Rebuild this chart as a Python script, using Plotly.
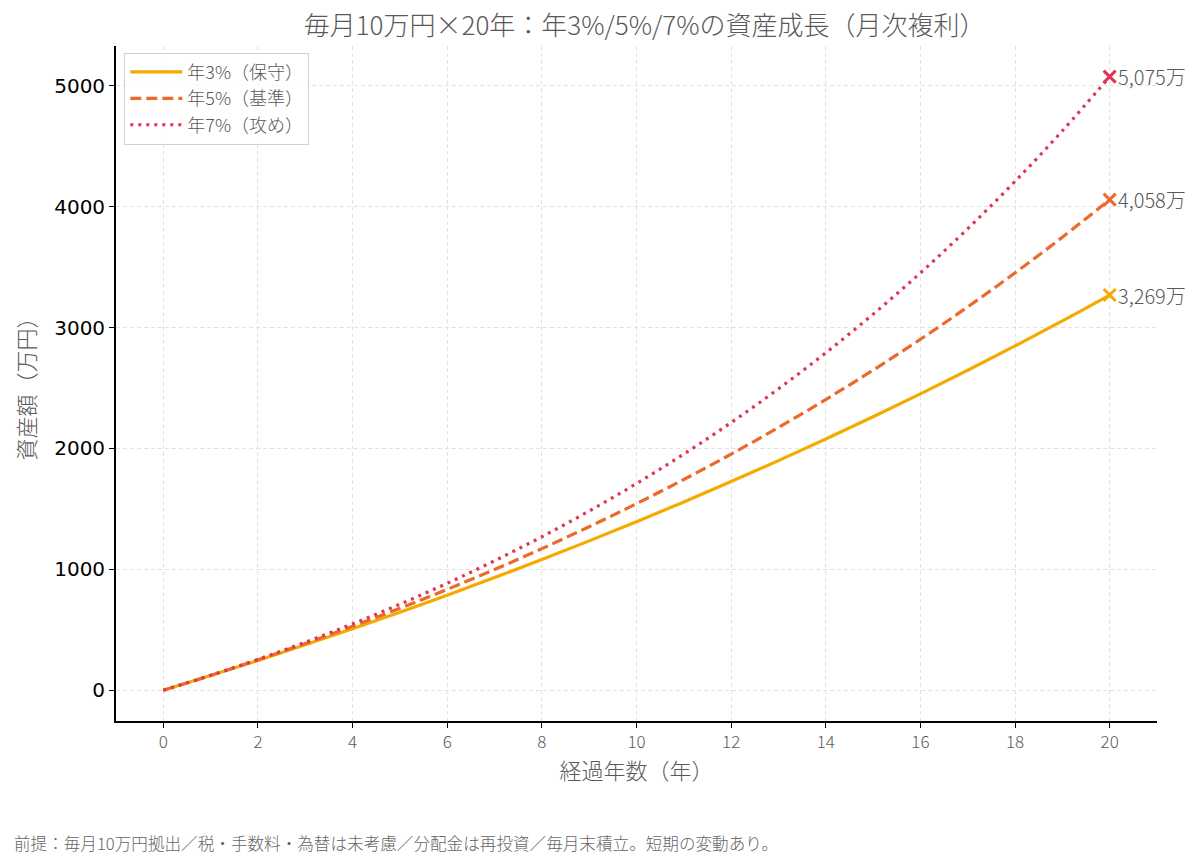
import plotly.graph_objects as go

years = list(range(0, 21))

# 資産額（万円）, year-end values
rate3 = [0, 121.6, 246.9, 376.0, 508.9, 645.8, 786.8, 932.1, 1081.7, 1235.8, 1394.5,
         1557.9, 1726.3, 1899.8, 2078.4, 2262.4, 2451.9, 2647.1, 2848.2, 3055.3, 3269.0]
rate5 = [0, 122.7, 251.6, 386.8, 528.9, 678.0, 834.7, 999.1, 1171.8, 1353.1, 1543.5,
         1743.4, 1953.3, 2173.7, 2405.1, 2648.1, 2903.2, 3171.1, 3452.4, 3747.8, 4058.0]
rate7 = [0, 123.8, 256.1, 397.8, 549.5, 711.8, 885.4, 1071.2, 1270.0, 1482.7, 1710.3,
         1953.8, 2214.4, 2493.2, 2791.6, 3110.8, 3452.4, 3818.0, 4209.0, 4627.5, 5075.3]

names = ["年3%（保守）", "年5%（基準）", "年7%（攻め）"]
colors = ["#F5AA00", "#EB6A2B", "#E23552"]
dashes = ["solid", "11px,5px", "3px,5px"]

jp = "Noto Sans CJK JP"
grey = "#595959"

fig = go.Figure()
for ys, name, col, dash in zip([rate3, rate5, rate7], names, colors, dashes):
    fig.add_trace(go.Scatter(
        x=years, y=ys, name=name, mode="lines",
        line=dict(color=col, width=3.2, dash=dash, shape="spline"),
    ))
    # end marker + label
    fig.add_trace(go.Scatter(
        x=[years[-1]], y=[ys[-1]], mode="markers", showlegend=False,
        marker=dict(symbol="x-thin", size=12, line=dict(color=col, width=3)),
    ))
    fig.add_annotation(
        x=years[-1], y=ys[-1], text=f"{ys[-1]:,.0f}万", showarrow=False,
        xanchor="left", xshift=6, font=dict(family=jp, size=20, color=grey, weight=300),
    )

# page is drawn with an 8px body margin, so margins are shifted by that
fig.update_layout(
    width=1200, height=866,
    margin=dict(l=108, r=51, t=38, b=153),
    plot_bgcolor="white", paper_bgcolor="white",
    title=dict(text="毎月10万円×20年：年3%/5%/7%の資産成長（月次複利）",
               x=0.5305, xanchor="center", y=0.979, yanchor="middle",
               font=dict(family=jp, size=26, color=grey, weight=300)),
    legend=dict(x=0.008, y=0.99, xanchor="left", yanchor="top",
                bgcolor="rgba(255,255,255,0.8)", bordercolor="#d0d0d0", borderwidth=1,
                font=dict(family=jp, size=18, color=grey, weight=300),
                itemwidth=52),
    showlegend=True,
)

fig.update_xaxes(
    range=[-1, 21], tickvals=list(range(0, 21, 2)),
    showline=True, linecolor="black", linewidth=1.8, mirror=False,
    ticks="outside", ticklen=5, tickcolor="black",
    tickfont=dict(family=jp, size=17, color=grey, weight=300),
    showgrid=True, gridcolor="#e2e2e2", griddash="4px,3px", gridwidth=1,
    zeroline=False,
    title=dict(text="経過年数（年）", font=dict(family=jp, size=22, color=grey, weight=300),
               standoff=6),
)
fig.update_yaxes(
    range=[-254, 5329], tickvals=[0, 1000, 2000, 3000, 4000, 5000],
    showline=True, linecolor="black", linewidth=1.8,
    ticks="outside", ticklen=5, tickcolor="black",
    tickfont=dict(family="DejaVu Sans", size=20, color="black"),
    showgrid=True, gridcolor="#e2e2e2", griddash="4px,3px", gridwidth=1,
    zeroline=False,
    title=dict(text="資産額（万円）", font=dict(family=jp, size=22, color=grey, weight=300),
               standoff=12),
)

fig.add_annotation(
    xref="paper", yref="paper", x=-0.0999, y=-0.181, xanchor="left", yanchor="middle",
    text="前提：毎月10万円拠出／税・手数料・為替は未考慮／分配金は再投資／毎月末積立。短期の変動あり。",
    showarrow=False, font=dict(family=jp, size=16.6, color="#666666", weight=300),
)

fig.write_html("out.html")
